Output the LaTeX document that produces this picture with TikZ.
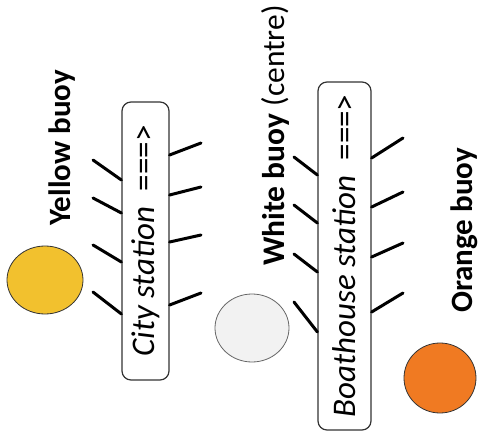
\documentclass[tikz,border=0pt]{standalone}
\usepackage{fontspec}
\setmainfont{Carlito}
\usetikzlibrary{shapes.geometric}

\definecolor{gelb}{HTML}{F2C12E}
\definecolor{orange}{HTML}{F07A22}
\definecolor{weiss}{HTML}{F2F2F2}

\begin{document}
\begin{tikzpicture}[x=1pt, y=-1pt,
	boje/.style={ellipse, draw=black!80, line width=0.8pt, inner sep=0pt},
	station/.style={draw=black!80, line width=1.2pt, rounded corners=9pt, rotate=90, inner sep=0pt, font=\fontsize{33}{36}\selectfont},
	label/.style={rotate=90, inner sep=0pt, anchor=base west, font=\fontsize{31}{34}\selectfont},
	ruder/.style={line width=3pt, line cap=round}]
\useasboundingbox (0,0) rectangle (480,436);

% Bojen
\node[boje, fill=gelb, minimum width=76, minimum height=68] (gelbBoje) at (45,280) {};
\node[boje, fill=weiss, draw=black!60, minimum width=74, minimum height=68] (weissBoje) at (252,328) {};
\node[boje, fill=orange, minimum width=72, minimum height=70] (orangeBoje) at (440,378) {};

% Beschriftungen
\node[label, font=\fontsize{31.5}{34}\selectfont] (weissText) at (284,266) {\textbf{White buoy} (centre)};
\node[label] (gelbText) at (70,226) {\textbf{Yellow buoy}};
\node[label] (orangeText) at (472,313) {\textbf{Orange buoy}};

% Stationen
\node[station, minimum width=278, minimum height=47] (city) at (145.5,241) {\textit{City station}~~===>};
\node[station, minimum width=348, minimum height=53] (boathouse) at (344.5,256) {\textit{Boathouse station}~~===>};

% Ruder City
\foreach \a/\b in {160/180, 198/213, 245/262, 292/314}
	\draw[ruder] (93,\a) -- (city.north |- 0,\b);
\foreach \a/\b in {155/143, 195/187, 242/235, 305/293}
	\draw[ruder] (city.south |- 0,\a) -- (201,\b);

% Ruder Boathouse
\foreach \a/\b in {157/175, 205/223, 254/272, 302/332}
	\draw[ruder] (294,\a) -- (boathouse.north |- 0,\b);
\foreach \a/\b in {158/138, 207/192, 257/243, 312/293}
	\draw[ruder] (boathouse.south |- 0,\a) -- (403,\b);
\end{tikzpicture}
\end{document}
